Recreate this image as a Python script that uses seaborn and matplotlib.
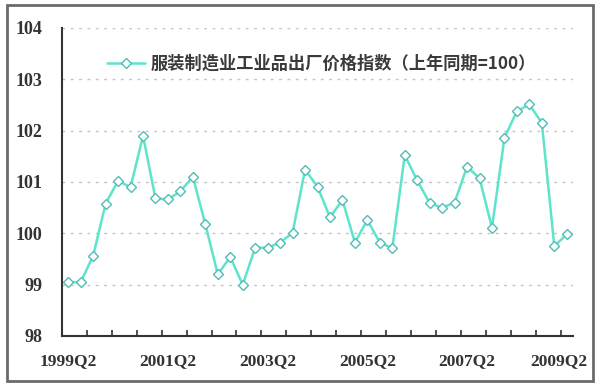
import matplotlib
matplotlib.use("Agg")
import matplotlib.pyplot as plt
from matplotlib.patches import Rectangle
from matplotlib.lines import Line2D
import seaborn as sns
import pandas as pd

quarters = []
for yr in range(1999, 2010):
    for q in range(1, 5):
        quarters.append(f"{yr}Q{q}")
quarters = quarters[1:42]  # 1999Q2 .. 2009Q2

values = [99.05, 99.05, 99.56, 100.58, 101.02, 100.9, 101.9, 100.68, 100.66, 100.82,
          101.1, 100.18, 99.2, 99.54, 99.0, 99.72, 99.72, 99.82, 100.01, 101.24,
          100.91, 100.31, 100.65, 99.82, 100.26, 99.82, 99.71, 101.52, 101.03, 100.59,
          100.5, 100.6, 101.3, 101.07, 100.11, 101.86, 102.38, 102.51, 102.15, 99.75,
          99.98]

label_quarters = ["1999Q2", "2001Q2", "2003Q2", "2005Q2", "2007Q2", "2009Q2"]
y_ticks = [98, 99, 100, 101, 102, 103, 104]
series_name = "服装制造业工业品出厂价格指数（上年同期=100）"

df = pd.DataFrame({"quarter": quarters, "value": values})
df["pos"] = range(len(df))

sns.set_theme(style="white")
plt.rcParams['font.family'] = ['Noto Sans CJK SC', 'DejaVu Sans']

fig = plt.figure(figsize=(6, 3.87), dpi=100)
ax = fig.add_axes([62/600, 1-336/387, (573-62)/600, (336-28)/387])

line_color = "#5ee4cc"
edge_color = "#52bcb6"

sns.lineplot(data=df, x="pos", y="value", ax=ax, color=line_color, linewidth=1.8,
             marker="D", markersize=5.5, markerfacecolor="white",
             markeredgecolor=edge_color, markeredgewidth=1.0)

ax.set_xlim(-0.5, len(df) - 0.5)
ax.set_ylim(98, 104)
ax.set_xlabel("")
ax.set_ylabel("")

# grid lines
for yv in y_ticks[1:]:
    ax.axhline(yv, color="#c4c4c4", linewidth=1.0, linestyle=(0, (2, 4)), zorder=0)

for s in ["top", "right"]:
    ax.spines[s].set_visible(False)
for s in ["left", "bottom"]:
    ax.spines[s].set_color("#333333")
    ax.spines[s].set_linewidth(1.5)

ax.set_yticks(y_ticks)
ax.set_yticklabels([str(v) for v in y_ticks], family="Liberation Serif",
                   fontweight="bold", fontsize=13, color="#333333")
ax.tick_params(axis="y", direction="in", length=4, width=1.2, color="#333333", pad=14)

label_pos = [quarters.index(q) for q in label_quarters]
label_pos[-1] = label_pos[-1] - 0.6  # last label nudged left to stay inside frame
ax.set_xticks(label_pos)
ax.set_xticklabels(label_quarters, family="Liberation Serif", fontweight="bold",
                   fontsize=12.5, color="#333333")
ax.tick_params(axis="x", which="major", length=0, pad=12)
ax.set_xticks([i + 0.5 for i in range(1, len(df) - 1, 2)], minor=True)
ax.tick_params(axis="x", which="minor", direction="in", length=4, width=1.2,
               color="#333333", bottom=True)

handle = Line2D([], [], color=line_color, linewidth=1.8, marker="D", markersize=5.5,
                markerfacecolor="white", markeredgecolor=edge_color)
leg = ax.legend([handle], [series_name], loc="upper left",
                bbox_to_anchor=(0.075, 0.935), frameon=False,
                prop={"family": ["Noto Sans CJK SC", "DejaVu Sans"], "size": 12.4,
                      "weight": "bold"},
                handlelength=2.2, handletextpad=0.3, borderaxespad=0)
for t in leg.get_texts():
    t.set_color("#3a3a3a")

fig.patches.append(Rectangle((7/600, 1-381/387), 586/600, 376/387,
                             transform=fig.transFigure, fill=False,
                             edgecolor="#6a6a6a", linewidth=2.0))

fig.savefig("out.png", dpi=100)
